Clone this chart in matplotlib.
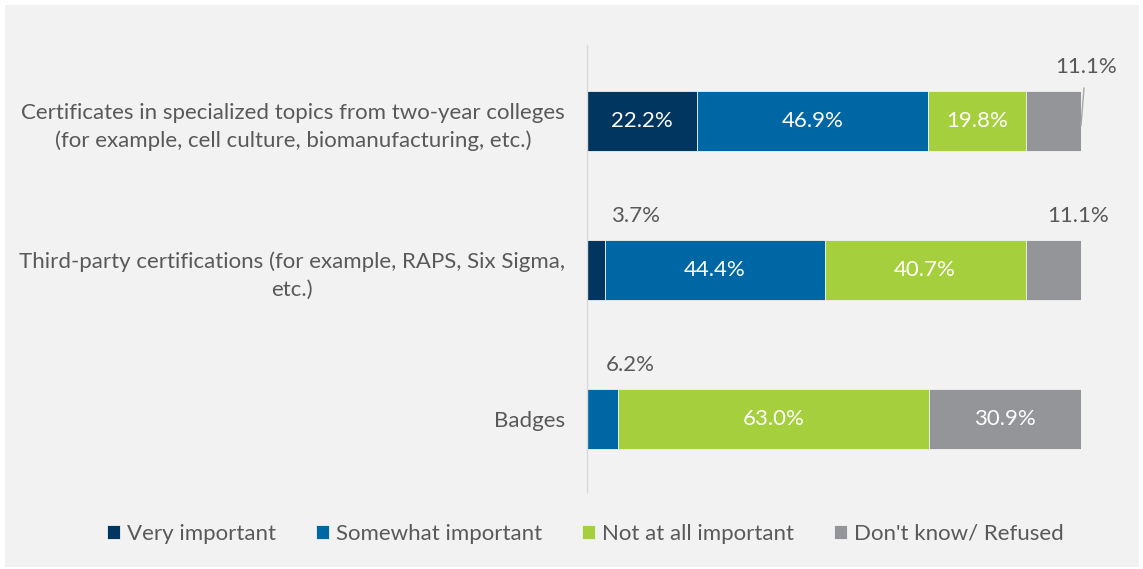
import matplotlib
matplotlib.use("Agg")
import matplotlib.pyplot as plt

categories = [
    "Certificates in specialized topics from two-year colleges\n(for example, cell culture, biomanufacturing, etc.)",
    "Third-party certifications (for example, RAPS, Six Sigma,\netc.)",
    "Badges",
]
series = ["Very important", "Somewhat important", "Not at all important", "Don't know/ Refused"]
very_important = [22.2, 3.7, 0.0]
somewhat_important = [46.9, 44.4, 6.2]
not_at_all_important = [19.8, 40.7, 63.0]
dont_know = [11.1, 11.1, 30.9]
colors = ["#003660", "#0067a5", "#a5cf3c", "#939598"]

plt.rcParams['font.family'] = ['Lato', 'DejaVu Sans']
FS = 16
W, H = 1143, 569
fig = plt.figure(figsize=(W / 100, H / 100), dpi=100)
fig.patch.set_facecolor("white")
bg = fig.add_axes([5 / W, 2 / H, 1134 / W, 562 / H], zorder=-10)
bg.set_facecolor("#f2f2f2")
bg.set_xticks([]); bg.set_yticks([])
for s in bg.spines.values():
    s.set_visible(False)

ax = fig.add_axes([587 / W, 1 - 492 / H, (1081 - 587) / W, (492 - 45) / H])
ax.set_facecolor("none")
data = [very_important, somewhat_important, not_at_all_important, dont_know]
y = list(range(len(categories)))
left = [0.0] * len(categories)
text_color = "#595959"
for si, (vals, col) in enumerate(zip(data, colors)):
    ax.barh(y, vals, left=left, height=0.4, color=col, edgecolor="#f2f2f2", linewidth=0.6,
            label=series[si], zorder=2)
    for i, v in enumerate(vals):
        if v >= 15:
            ax.text(left[i] + v / 2, i, f"{v:.1f}%", ha="center", va="center",
                    color="white", fontsize=FS)
    left = [l + v for l, v in zip(left, vals)]

# small value labels above bars
ax.text(101.0, -0.36, "11.1%", ha="center", va="center", color=text_color, fontsize=FS, clip_on=False)
ax.plot([100.0, 100.6], [0.03, -0.22], color="#a6a6a6", lw=1, clip_on=False)
ax.text(9.8, 0.64, "3.7%", ha="center", va="center", color=text_color, fontsize=FS, clip_on=False)
ax.text(99.5, 0.64, "11.1%", ha="center", va="center", color=text_color, fontsize=FS, clip_on=False)
ax.text(8.8, 1.64, "6.2%", ha="center", va="center", color=text_color, fontsize=FS, clip_on=False)

ax.set_xlim(0, 100)
ax.set_ylim(2.49, -0.51)
ax.set_yticks(y)
ax.set_yticklabels(categories, fontsize=FS, color=text_color, ha="right",
                   multialignment="center", linespacing=1.45)
ax.tick_params(axis="y", length=0, pad=16)
ax.set_xticks([])
for s in ["top", "right", "bottom"]:
    ax.spines[s].set_visible(False)
ax.spines["left"].set_color("#d9d9d9")
ax.spines["left"].set_linewidth(1)

handles, labels = ax.get_legend_handles_labels()
leg = fig.legend(handles, labels, loc="center", bbox_to_anchor=(585 / W, 1 - 534 / H), ncol=4,
                 frameon=False, fontsize=FS, handlelength=0.6, handleheight=0.6,
                 handletextpad=0.3, columnspacing=1.8, labelcolor=text_color)

fig.savefig("out.png", dpi=100, facecolor=fig.get_facecolor())
